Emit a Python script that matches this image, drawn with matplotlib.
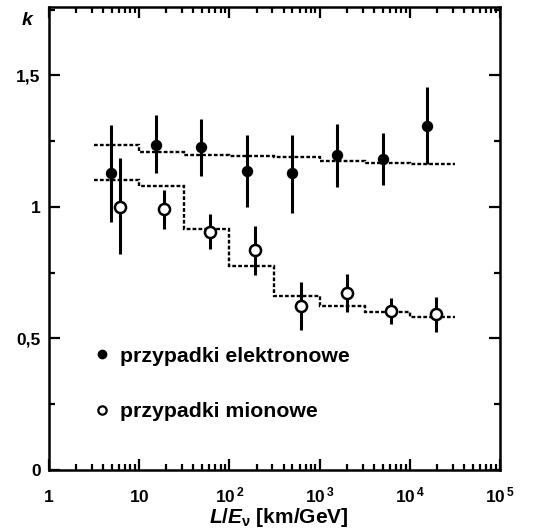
import matplotlib
matplotlib.use("Agg")
import matplotlib.pyplot as plt
from matplotlib.lines import Line2D
from matplotlib.ticker import FixedLocator, FixedFormatter, LogLocator, NullFormatter, MultipleLocator
import numpy as np

plt.rcParams['font.family'] = ['Liberation Sans', 'DejaVu Sans']
plt.rcParams['mathtext.fontset'] = 'custom'
plt.rcParams['mathtext.rm'] = 'Liberation Sans:bold'
plt.rcParams['mathtext.bf'] = 'Liberation Sans:bold'
plt.rcParams['mathtext.it'] = 'Liberation Sans:bold:italic'

# electron-like events (filled)
e_x = [4.9, 15.4, 48.5, 156, 494, 1574, 5000, 15400]
e_y = [1.13, 1.237, 1.228, 1.138, 1.128, 1.196, 1.181, 1.309]
e_hi = [1.31, 1.35, 1.336, 1.274, 1.274, 1.314, 1.28, 1.457]
e_lo = [0.943, 1.13, 1.119, 1.001, 0.978, 1.077, 1.084, 1.162]

# muon-like events (open)
mu_x = [6.1, 19, 61, 194, 617, 1995, 6200, 19500]
mu_y = [1.001, 0.991, 0.904, 0.837, 0.624, 0.674, 0.605, 0.592]
mu_hi = [1.185, 1.065, 0.972, 0.929, 0.714, 0.744, 0.653, 0.657]
mu_lo = [0.821, 0.916, 0.839, 0.741, 0.532, 0.602, 0.554, 0.526]

# expectation histograms (dashed steps)
bin_edges = [3.162, 10, 31.62, 100, 316.2, 1000, 3162, 10000, 31620]
e_step = [1.235, 1.21, 1.197, 1.193, 1.188, 1.176, 1.168, 1.162]
mu_step = [1.103, 1.078, 0.915, 0.777, 0.662, 0.624, 0.600, 0.581]

xtick_vals = [1, 10, 100, 1000, 10000, 100000]
xtick_labels = [r'$\mathbf{1}$', r'$\mathbf{10}$', r'$\mathbf{10}^{\mathbf{\,2}}$',
                r'$\mathbf{10}^{\mathbf{\,3}}$', r'$\mathbf{10}^{\mathbf{\,4}}$', r'$\mathbf{10}^{\mathbf{\,5}}$']
ytick_vals = [0, 0.5, 1, 1.5]
ytick_labels = ['0', '0,5', '1', '1,5']

legend_labels = ['przypadki elektronowe', 'przypadki mionowe']

fig = plt.figure(figsize=(5.43, 5.31), dpi=100)
ax = fig.add_axes([0.0902, 0.1149, 0.8306, 0.8719])

ax.stairs(e_step, bin_edges, baseline=None, color='black', lw=1.7,
          linestyle=(0, (1.6, 0.9)))
ax.stairs(mu_step, bin_edges, baseline=None, color='black', lw=1.7,
          linestyle=(0, (1.6, 0.9)))

e_err = [np.array(e_y) - np.array(e_lo), np.array(e_hi) - np.array(e_y)]
mu_err = [np.array(mu_y) - np.array(mu_lo), np.array(mu_hi) - np.array(mu_y)]
ax.errorbar(e_x, e_y, yerr=e_err, fmt='o', color='black', ms=7.2,
            elinewidth=2.2, capsize=0, zorder=3)
ax.errorbar(mu_x, mu_y, yerr=mu_err, fmt='o', color='black', mfc='white',
            mec='black', mew=1.8, ms=8, elinewidth=2.2, capsize=0, zorder=3)

ax.set_xscale('log')
ax.set_xlim(1, 1e5)
ax.set_ylim(0, 1.76)

ax.xaxis.set_major_locator(FixedLocator(xtick_vals))
ax.xaxis.set_major_formatter(FixedFormatter(xtick_labels))
ax.xaxis.set_minor_locator(LogLocator(base=10, subs=np.arange(2, 10), numticks=20))
ax.xaxis.set_minor_formatter(NullFormatter())
ax.yaxis.set_major_locator(FixedLocator(ytick_vals))
ax.yaxis.set_major_formatter(FixedFormatter(ytick_labels))
ax.yaxis.set_minor_locator(MultipleLocator(0.25))

ax.tick_params(which='both', direction='in', top=True, right=True, width=1.6)
ax.tick_params(which='major', length=8)
ax.tick_params(which='minor', length=4.5)
ax.tick_params(axis='y', which='major', labelsize=12.5, pad=6)
ax.tick_params(axis='x', which='major', labelsize=12.5, pad=23)
for lab in ax.get_yticklabels():
    lab.set_fontweight('bold')
for lab in ax.get_xticklabels():
    lab.set_verticalalignment('baseline')

for s in ax.spines.values():
    s.set_linewidth(1.8)

ax.set_xlabel(r'$\mathit{L/E}_{\mathbf{\nu}}$ $\mathbf{[km/GeV]}$', fontsize=15, labelpad=2)
ax.xaxis.set_label_coords(0.51, -0.078)
ax.set_ylabel('k', rotation=0, fontsize=14, fontstyle='italic', fontweight='bold')
ax.yaxis.set_label_coords(-0.049, 0.952)

handles = [Line2D([], [], marker='o', ls='none', color='black', ms=6),
           Line2D([], [], marker='o', ls='none', color='black', mfc='white', mew=1.6, ms=6)]
leg = ax.legend(handles, legend_labels, loc='center left', bbox_to_anchor=(0.093, 0.186),
                frameon=False, fontsize=15.3, handlelength=1.0, handletextpad=0.38,
                labelspacing=1.72, borderpad=0, borderaxespad=0, numpoints=1)
for t in leg.get_texts():
    t.set_fontweight('bold')

fig.savefig('out.png', dpi=100)
